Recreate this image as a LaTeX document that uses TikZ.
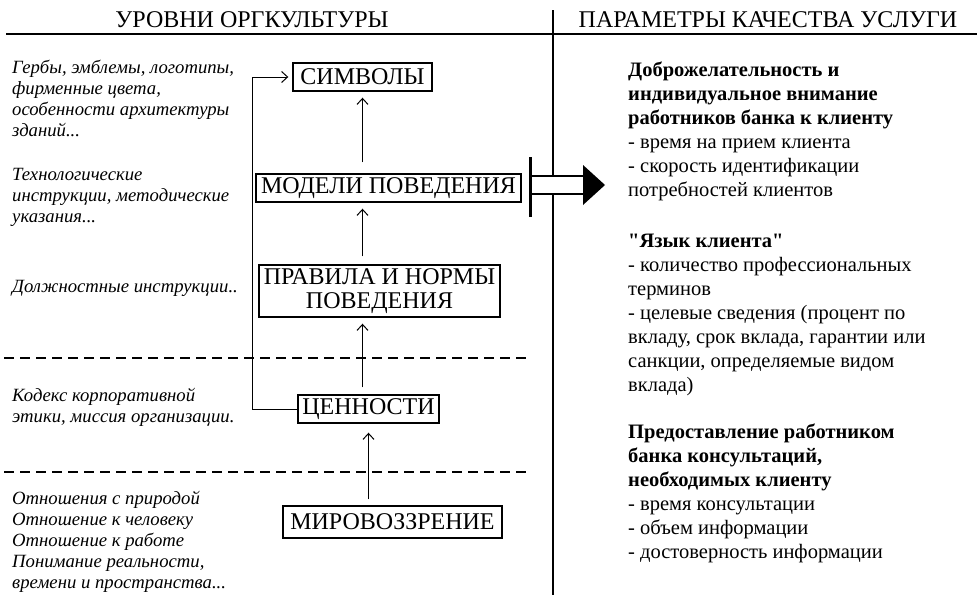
\documentclass[tikz,border=0pt]{standalone}
\usepackage{fontspec}
\setmainfont{Liberation Serif}[Ligatures=TeXOff]
\usetikzlibrary{arrows.meta}
\begin{document}
\begin{tikzpicture}[x=1pt,y=-1pt,
 box/.style={draw, line width=1.4pt, inner sep=0pt, align=center, font=\fontsize{24}{24}\selectfont},
 up/.style={-{Straight Barb[length=6pt,width=11pt]}, line width=1pt},
 itl/.style={anchor=base west, inner sep=0pt, align=left, font=\fontsize{18.7}{21}\selectfont\itshape},
 rt/.style={anchor=base west, inner sep=0pt, align=left, font=\fontsize{20.5}{24}\selectfont},
 ttl/.style={font=\fontsize{24}{24}\selectfont, inner sep=0pt},
 sepline/.style={line width=1.5pt},
 dsh/.style={line width=2.5pt, dash pattern=on 10pt off 6pt}]
\useasboundingbox (0,0) rectangle (977,603);

% titles
\node[ttl] (t1) at (252,20) {УРОВНИ ОРГКУЛЬТУРЫ};
\node[ttl] (t2) at (768,20) {ПАРАМЕТРЫ КАЧЕСТВА УСЛУГИ};
\draw[sepline] (6,34) -- (977,34);
\draw[sepline] (553,10) -- (553,595);

% dashed level separators
\draw[dsh] (4,358) -- (526,358);
\draw[dsh] (4,472) -- (526,472);

% boxes
\node[box, minimum width=139pt, minimum height=28pt] (simv) at (362.5,77) {СИМВОЛЫ};
\node[box, minimum width=265pt, minimum height=28pt] (mod) at (388.5,188) {МОДЕЛИ ПОВЕДЕНИЯ};
\node[box, minimum width=241pt, minimum height=52pt] (prav) at (379.5,291) {ПРАВИЛА И НОРМЫ\\ПОВЕДЕНИЯ};
\node[box, minimum width=141pt, minimum height=28pt] (cen) at (368.5,409) {ЦЕННОСТИ};
\node[box, minimum width=219pt, minimum height=32pt] (mir) at (392.5,522) {МИРОВОЗЗРЕНИЕ};

% vertical arrows
\draw[up, shorten <=11pt, shorten >=6pt] (mod.north -| simv.south) -- (simv.south);
\draw[up, shorten <=8pt, shorten >=6pt] (prav.north -| simv.south) -- (mod.south -| simv.south);
\draw[up, shorten <=7pt, shorten >=6pt] (cen.north -| simv.south) -- (prav.south -| simv.south);
\draw[up, shorten <=6pt, shorten >=9pt] (mir.north -| cen.south) -- (cen.south);
% feedback line
\draw[up, shorten >=4pt] (cen.west) -- ++(-45,0) |- (simv.west);

% big arrow to the right
\draw[line width=3pt] (530,157) -- (530,217);
\draw[line width=2pt, fill=white] (531,176) rectangle (584,194);
\fill (583,165) -- (605,185) -- (583,205) -- cycle;

% left italic descriptions (anchor = baseline of last line)
\node[itl] (d1) at (12,136) {Гербы, эмблемы, логотипы,\\фирменные цвета,\\особенности архитектуры\\зданий...};
\node[itl] (d2) at (12,222) {Технологические\\инструкции, методические\\указания...};
\node[itl] (d3) at (12,292) {Должностные инструкции..};
\node[itl] (d4) at (12,422) {Кодекс корпоративной\\этики, миссия организации.};
\node[itl] (d5) at (12,588) {Отношения с природой\\Отношение к человеку\\Отношение к работе\\Понимание реальности,\\времени и пространства...};

% right column (anchor = baseline of last line)
\node[rt] (p1) at (628,196) {\textbf{Доброжелательность и}\\\textbf{индивидуальное внимание}\\\textbf{работников банка к клиенту}\\- время на прием клиента\\- скорость идентификации\\потребностей клиентов};
\node[rt] (p2) at (628,391) {\textbf{"Язык клиента"}\\- количество профессиональных\\терминов\\- целевые сведения (процент по\\вкладу, срок вклада, гарантии или\\санкции, определяемые видом\\вклада)};
\node[rt] (p3) at (628,558) {\textbf{Предоставление работником}\\\textbf{банка консультаций,}\\\textbf{необходимых клиенту}\\- время консультации\\- объем информации\\- достоверность информации};
\end{tikzpicture}
\end{document}
